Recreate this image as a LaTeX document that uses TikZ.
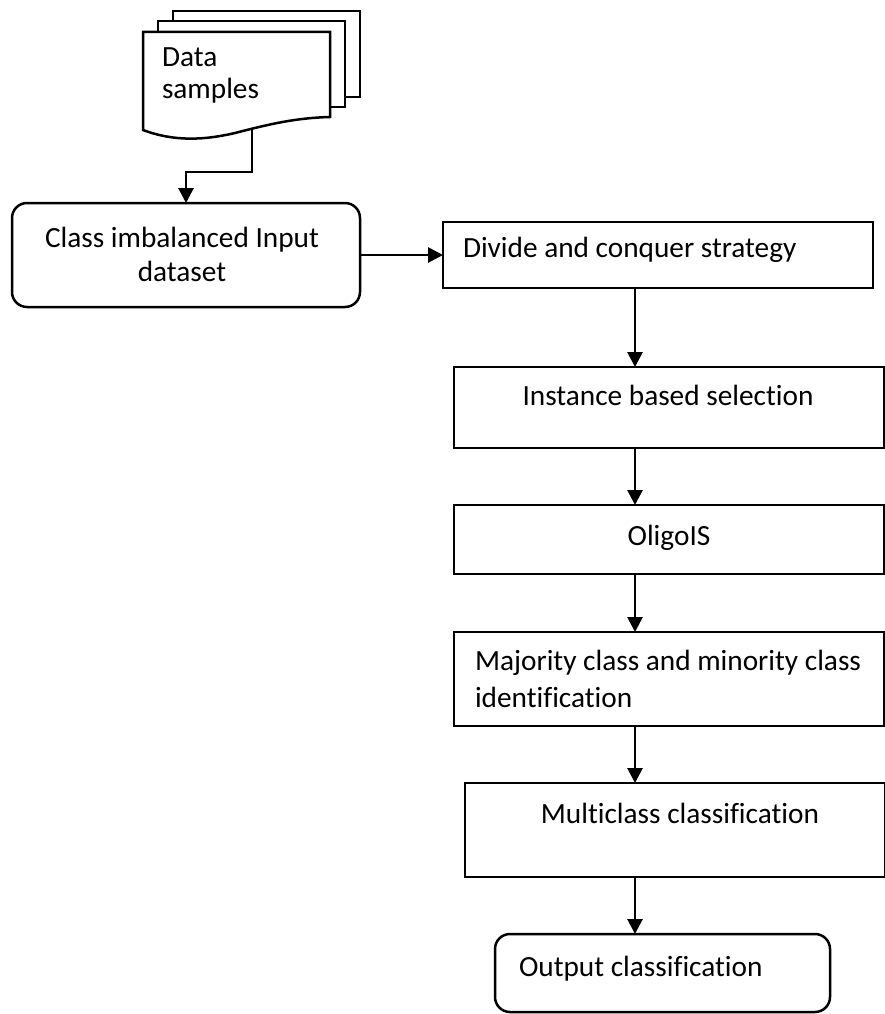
\documentclass[tikz,border=0pt]{standalone}
\usepackage{fontspec}
\setmainfont{Carlito}[Ligatures=NoCommon]
\usetikzlibrary{arrows.meta,calc}
\begin{document}
\begin{tikzpicture}[x=1pt,y=-1pt,
  every node/.style={font=\fontsize{29.3}{35.5}\selectfont},
  box/.style={draw=black,line width=2.5pt,inner sep=0pt,outer sep=0pt,anchor=north west,fill=white},
  rbox/.style={box,rounded corners=15pt},
  txt/.style={inner sep=0pt,outer sep=0pt},
  doc/.style={draw=black,line width=2.5pt,fill=white,line join=miter},
  arr/.style={draw=black,line width=2.8pt,-{Triangle[length=15pt,width=15pt]}}]
\useasboundingbox (0,0) rectangle (885,1014);
% document stack
\draw[doc] (345,97) -- (360,97) -- (360,11) -- (173,11) -- (173,21);
\draw[doc] (330,107) -- (345,107) -- (345,21) -- (158,21) -- (158,32);
\draw[doc] (143,130) -- (143,32) -- (330,32) -- (330,117)
  .. controls (295,118) and (270,124) .. (235,133)
  .. controls (205,140) and (175,142) .. (143,130) -- cycle;
\node[txt,anchor=base west] (data1) at (162,67) {Data};
\node[txt,anchor=base west] (data2) at (162,99) {samples};
\coordinate (docb) at (252,128);
\coordinate (spine) at (635,0);
% boxes
\node[rbox,minimum width=348pt,minimum height=104pt] (b1) at (12,203) {};
\node[box,minimum width=430pt,minimum height=66pt] (b2) at (443,222) {};
\node[box,minimum width=430pt,minimum height=81pt] (b3) at (454,367) {};
\node[box,minimum width=430pt,minimum height=69pt] (b4) at (454,505) {};
\node[box,minimum width=430pt,minimum height=94pt] (b5) at (454,632) {};
\node[box,minimum width=420pt,minimum height=94pt] (b6) at (465,783) {};
\node[rbox,minimum width=335pt,minimum height=78pt] (b7) at (495,934) {};
% texts
\node[txt,anchor=base] (t1a) at (182,247) {Class imbalanced Input};
\node[txt,anchor=base] (t1b) at (182,281) {dataset};
\node[txt,anchor=base west] (t2) at (463,257) {Divide and conquer strategy};
\node[txt,anchor=base] (t3) at (668,405) {Instance based selection};
\node[txt,anchor=base] (t4) at (669,545) {OligoIS};
\node[txt,anchor=base west] (t5a) at (475,670) {Majority class and minority class};
\node[txt,anchor=base west] (t5b) at (475,707) {identification};
\node[txt,anchor=base] (t6) at (680,823) {Multiclass classification};
\node[txt,anchor=base west] (t7) at (519,976) {Output classification};
% connectors
\draw[arr] (docb) |- (186,172) -- (b1.north);
\draw[arr] (b1.east) -- (b2.west);
\draw[arr] (b2.south -| spine) -- (b3.north -| spine);
\draw[arr] (b3.south -| spine) -- (b4.north -| spine);
\draw[arr] (b4.south -| spine) -- (b5.north -| spine);
\draw[arr] (b5.south -| spine) -- (b6.north -| spine);
\draw[arr] (b6.south -| spine) -- (b7.north -| spine);
\end{tikzpicture}
\end{document}
